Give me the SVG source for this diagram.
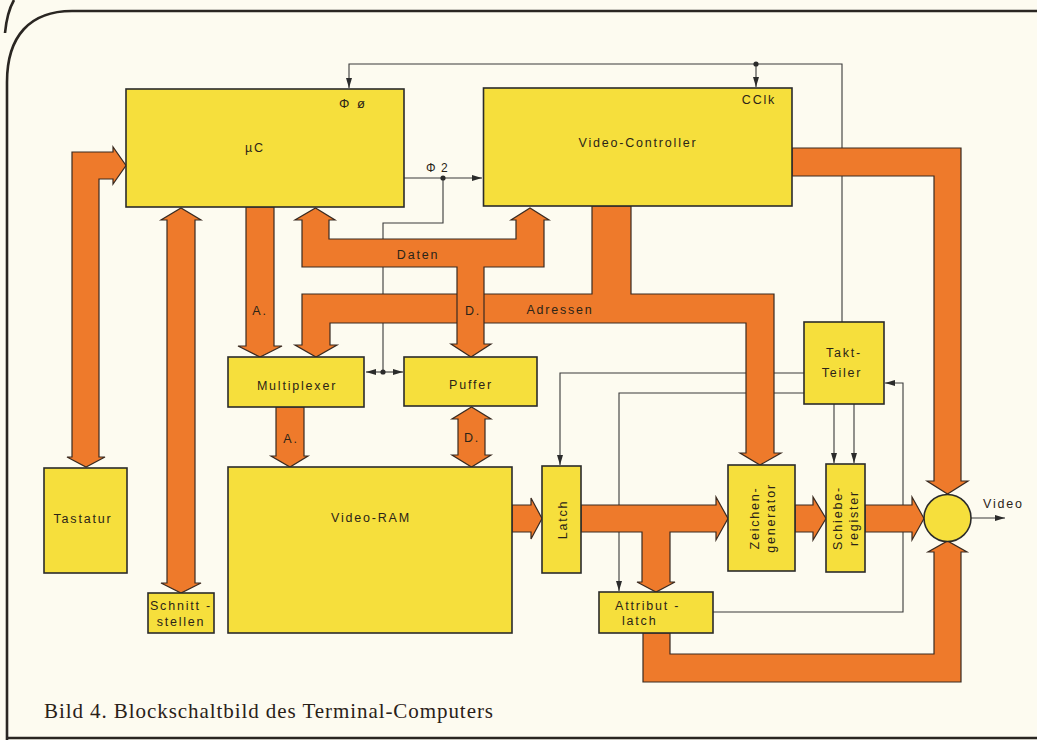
<svg xmlns="http://www.w3.org/2000/svg" width="1037" height="740" viewBox="0 0 1037 740">
<style>
.bg{fill:#fdfbf0}
.frame{fill:none;stroke:#2a2622;stroke-width:2.6}
.box{fill:#f6df3c;stroke:#2b2b2b;stroke-width:1.6}
.bus{fill:#ee7a2b;stroke:#3a2a20;stroke-width:1.2;stroke-linejoin:miter}
.wire{fill:none;stroke:#3a3a3a;stroke-width:1.1}
.dot{fill:#2b2b2b}
.lbl{font-family:"Liberation Sans",Arial,sans-serif;font-size:12.5px;letter-spacing:1.8px;fill:#2b2418}
.mid{text-anchor:middle}
.cap{font-family:"Liberation Serif","Times New Roman",serif;font-size:21px;fill:#2a2118}
</style>
<defs>
<marker id="ah" viewBox="0 0 10 6" refX="10" refY="3" markerWidth="10" markerHeight="6" orient="auto" markerUnits="userSpaceOnUse">
<path d="M0,0 L10,3 L0,6 z" fill="#2b2b2b"/>
</marker>
</defs>
<rect class="bg" x="0" y="0" width="1037" height="740"/>
<g id="frame">
<path class="frame" d="M7,740 V82 C7,36 30,11 72,11 H1037"/>
<path class="frame" d="M5,33 Q7,12 14,0"/>
<line class="frame" x1="7" y1="738" x2="1037" y2="738"/>
</g>
<g id="connectors">
<g id="wires">
<path class="wire" d="M842,322 V64 H349 V88" marker-end="url(#ah)"/>
<path class="wire" d="M756,64 V87" marker-end="url(#ah)"/>
<path class="wire" d="M404,178 H482" marker-end="url(#ah)"/>
<path class="wire" d="M443,178 V223 H383 V372"/>
<path class="wire" d="M383,372 H366" marker-end="url(#ah)"/>
<path class="wire" d="M383,372 H403" marker-end="url(#ah)"/>
<path class="wire" d="M804,373 H560 V465" marker-end="url(#ah)"/>
<path class="wire" d="M804,393 H619 V591" marker-end="url(#ah)"/>
<path class="wire" d="M834,404 V463" marker-end="url(#ah)"/>
<path class="wire" d="M854,404 V463" marker-end="url(#ah)"/>
<path class="wire" d="M713,612 H903 V383 H885" marker-end="url(#ah)"/>
<path class="wire" d="M971,518 H1005" marker-end="url(#ah)"/>
<circle class="dot" cx="756" cy="64" r="2.6"/>
<circle class="dot" cx="443" cy="178" r="2.6"/>
<circle class="dot" cx="383" cy="372" r="2.6"/>
</g>
<g id="buses">
<path class="bus" d="M72,457 V152 H113 V147 L126,165.5 L113,184 V179 H99 V457 H105 L86,467 L67,457 Z"/>
<path class="bus" d="M167,220 H161 L181,208 L201,220 H195 V583 H201 L181,593 L161,583 H167 Z"/>
<path class="bus" d="M246,207 H274 V346 H282 L260,357 L238,346 H246 Z"/>
<path class="bus" d="M302,294 H592 V206 H631 V294 H774 V453 H781 L760,465 L740,453 H746 V323 H330 V345 H337 L316,357 L295,345 H302 Z"/>
<path class="bus" d="M302,267 V220 H295 L315.5,208 L335,220 H329 V239 H516 V220 H511 L530,208 L549,220 H544 V267 H484 V344 H491 L471,357 L451,344 H457 V267 Z"/>
<path class="bus" d="M276,407 H304 V456 H308 L290,467 L271,456 H276 Z"/>
<path class="bus" d="M458,419 H452 L471.5,407 L491,419 H485 V455 H491 L471.5,467 L452,455 H458 Z"/>
<path class="bus" d="M512,505 H531 V498 L542,518.5 L531,539 V532 H512 Z"/>
<path class="bus" d="M581,505 H716 V497 L728,518.5 L716,540 V532 H670 V582 H675 L656,592 L637,582 H642 V532 H581 Z"/>
<path class="bus" d="M795,505 H813 V497 L826,518.5 L813,540 V532 H795 Z"/>
<path class="bus" d="M865,505 H912 V497 L924,518.5 L912,540 V532 H865 Z"/>
<path class="bus" d="M792,148 H961 V481 H968 L947.5,494 L927,481 H934 V176 H792 Z"/>
<path class="bus" d="M643,633 V682 H961 V552 H967 L947.5,541 L928,552 H934 V654 H670 V633 Z"/>
</g>
<g id="bus-labels">
<text class="lbl mid" x="418" y="258.5">Daten</text>
<text class="lbl mid" x="560" y="313.5">Adressen</text>
<text class="lbl mid" x="260" y="315">A.</text>
<text class="lbl mid" x="473" y="314.5">D.</text>
<text class="lbl mid" x="291" y="442.5">A.</text>
<text class="lbl mid" x="472" y="441.5">D.</text>
<text class="lbl" x="983" y="508">Video</text>
</g>
</g>
<g id="uC">
<rect class="box" x="126" y="89" width="278" height="118"/>
<text class="lbl mid" x="255" y="152">µC</text>
<text class="lbl" x="339" y="108" style="font-size:13px;letter-spacing:2px">Φ ø</text>
<text class="lbl" x="426" y="172" style="font-size:12px;letter-spacing:1px">Φ 2</text>
</g>
<g id="video-controller">
<rect class="box" x="483.5" y="88" width="308.5" height="118"/>
<text class="lbl mid" x="638" y="146.5">Video-Controller</text>
<text class="lbl mid" x="759" y="103.5">CClk</text>
</g>
<g id="multiplexer">
<rect class="box" x="228" y="357" width="136" height="50"/>
<text class="lbl mid" x="297" y="389.5">Multiplexer</text>
</g>
<g id="puffer">
<rect class="box" x="404" y="357" width="133" height="49"/>
<text class="lbl mid" x="471" y="388.5">Puffer</text>
</g>
<g id="video-ram">
<rect class="box" x="228" y="467" width="284" height="166"/>
<text class="lbl mid" x="371" y="521.5">Video-RAM</text>
</g>
<g id="tastatur">
<rect class="box" x="44" y="468" width="83" height="105"/>
<text class="lbl mid" x="83" y="522.5">Tastatur</text>
</g>
<g id="schnittstellen">
<rect class="box" x="148" y="593" width="66" height="40"/>
<text class="lbl mid" x="181" y="609.5">Schnitt -</text>
<text class="lbl mid" x="181" y="626">stellen</text>
</g>
<g id="takt-teiler">
<rect class="box" x="804" y="322" width="80" height="82"/>
<text class="lbl mid" x="844" y="357">Takt-</text>
<text class="lbl mid" x="842" y="376.5">Teiler</text>
</g>
<g id="latch">
<rect class="box" x="542" y="466" width="39" height="107"/>
<text class="lbl mid" transform="translate(561.5,519.5) rotate(-90)" x="0" y="5">Latch</text>
</g>
<g id="zeichengenerator">
<rect class="box" x="728" y="465" width="67" height="106"/>
<g transform="translate(761.5,518) rotate(-90)">
<text class="lbl mid" x="0" y="-3">Zeichen-</text>
<text class="lbl mid" x="0" y="13">generator</text>
</g>
</g>
<g id="schieberegister">
<rect class="box" x="826" y="464" width="39" height="108"/>
<g transform="translate(845.5,518) rotate(-90)">
<text class="lbl mid" x="0" y="-4">Schiebe-</text>
<text class="lbl mid" x="0" y="12">register</text>
</g>
</g>
<g id="attributlatch">
<rect class="box" x="599" y="592" width="114" height="41"/>
<text class="lbl" x="615" y="609.5">Attribut -</text>
<text class="lbl" x="622" y="625">latch</text>
</g>
<g id="mixer">
<circle class="box" cx="947.5" cy="518" r="23.5"/>
</g>
<text class="cap" x="44" y="718" textLength="449" lengthAdjust="spacing">Bild 4. Blockschaltbild des Terminal-Computers</text>
</svg>
